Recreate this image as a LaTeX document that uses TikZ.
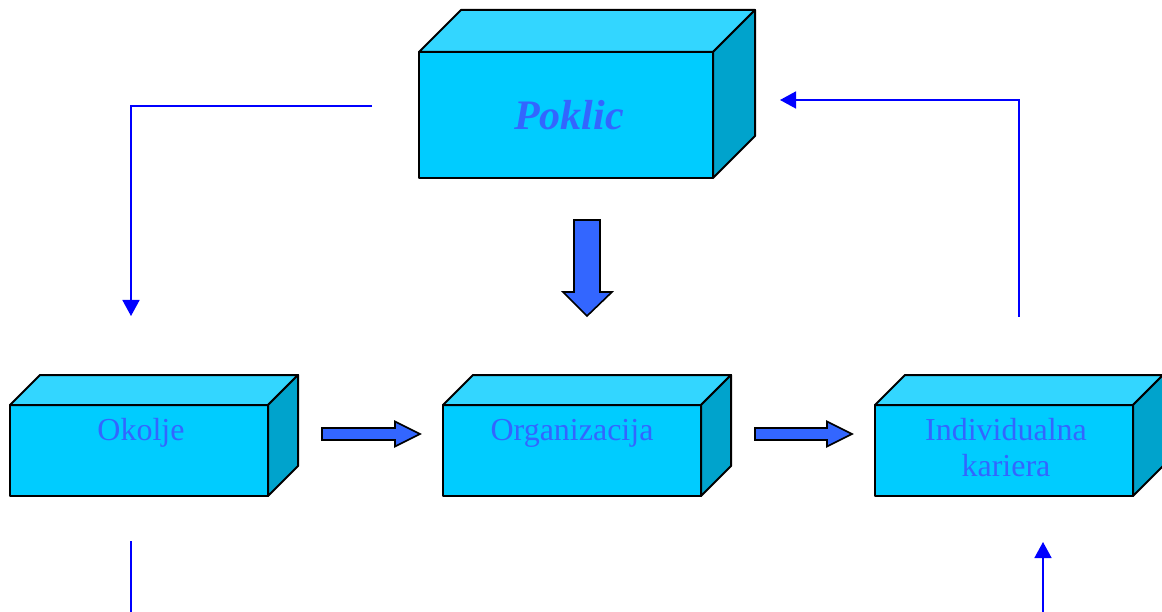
\documentclass[tikz,border=0pt]{standalone}
\usepackage{fontspec}
\setmainfont{Liberation Serif}
\usetikzlibrary{arrows.meta}
\definecolor{frontc}{HTML}{00CCFF}
\definecolor{topc}{HTML}{33D6FF}
\definecolor{sidec}{HTML}{00A3CC}
\definecolor{fatc}{HTML}{3366FF}
\definecolor{thinc}{HTML}{0000FF}
\begin{document}
\begin{tikzpicture}[x=1pt,y=-1pt,
  face/.style={draw=black, line width=2pt, fill=frontc, rectangle, inner sep=0pt, outer sep=0pt, anchor=north west, line join=round},
  topface/.style={draw=black, line width=2pt, fill=topc, line join=round},
  sideface/.style={draw=black, line width=2pt, fill=sidec, line join=round},
  smalllabel/.style={text=fatc, font=\fontsize{32}{36}\selectfont, inner sep=0pt, align=center},
  biglabel/.style={text=fatc, font=\fontsize{42}{48}\selectfont\bfseries\itshape, inner sep=0pt},
  fatarrow/.style={draw=black, line width=1.6pt, fill=fatc, line join=miter},
  thinarrow/.style={draw=thinc, line width=1.6pt, -{Triangle[length=16pt,width=17pt]}},
  thinline/.style={draw=thinc, line width=1.6pt}]
\useasboundingbox (0,0) rectangle (1162,612);
% Poklic box
\node[face, minimum width=294pt, minimum height=126pt] (poklic) at (419,52) {};
\draw[topface] (poklic.north west) -- ++(42,-42) -- ++(294,0) -- (poklic.north east) -- cycle;
\draw[sideface] (poklic.north east) -- ++(42,-42) -- ++(0,126) -- (poklic.south east) -- cycle;
\node[biglabel, anchor=base] (poklicT) at (569,130) {Poklic};
% Okolje box
\node[face, minimum width=258pt, minimum height=91pt] (okolje) at (10,405) {};
\draw[topface] (okolje.north west) -- ++(30,-30) -- ++(258,0) -- (okolje.north east) -- cycle;
\draw[sideface] (okolje.north east) -- ++(30,-30) -- ++(0,91) -- (okolje.south east) -- cycle;
\node[smalllabel, anchor=base] (okoljeT) at (141,440) {Okolje};
% Organizacija box
\node[face, minimum width=258pt, minimum height=91pt] (org) at (443,405) {};
\draw[topface] (org.north west) -- ++(30,-30) -- ++(258,0) -- (org.north east) -- cycle;
\draw[sideface] (org.north east) -- ++(30,-30) -- ++(0,91) -- (org.south east) -- cycle;
\node[smalllabel, anchor=base] (orgT) at (572,440) {Organizacija};
% Individualna kariera box
\node[face, minimum width=258pt, minimum height=91pt] (ind) at (875,405) {};
\draw[topface] (ind.north west) -- ++(30,-30) -- ++(258,0) -- (ind.north east) -- cycle;
\draw[sideface] (ind.north east) -- ++(30,-30) -- ++(0,91) -- (ind.south east) -- cycle;
\node[smalllabel, anchor=center] (indT) at (1006,448) {Individualna\\kariera};
% fat arrows
\draw[fatarrow] (322,428) -- (395,428) -- (395,421.5) -- (420,434) -- (395,446.5) -- (395,440) -- (322,440) -- cycle;
\draw[fatarrow] (755,428) -- (827,428) -- (827,421.5) -- (852,434) -- (827,446.5) -- (827,440) -- (755,440) -- cycle;
\draw[fatarrow] (574,220) -- (600,220) -- (600,292) -- (612,292) -- (587,316) -- (563,292) -- (574,292) -- cycle;
% thin connectors
\coordinate (lStart) at (372,106);
\coordinate (lEnd) at (131,316);
\draw[thinarrow] (lStart) -| (lEnd);
\coordinate (rStart) at (1019,317);
\coordinate (rEnd) at (780,100);
\draw[thinarrow] (rStart) |- (rEnd);
\coordinate (bl1) at (131,541);
\coordinate (bl2) at (131,612);
\draw[thinline] (bl1) -- (bl2);
\coordinate (br1) at (1043,612);
\coordinate (br2) at (1043,542);
\draw[thinarrow] (br1) -- (br2);
\end{tikzpicture}
\end{document}
